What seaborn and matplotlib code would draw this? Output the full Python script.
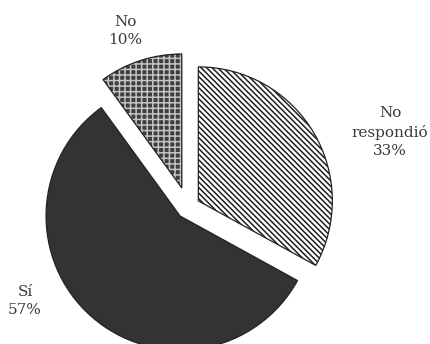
import matplotlib
matplotlib.use("Agg")
import matplotlib.pyplot as plt
import seaborn as sns

# Survey answers, clockwise from 12 o'clock
categories = ["No\nrespondió", "Sí", "No"]
values = [33, 57, 10]

sns.set_theme(style="white")
plt.rcParams["font.family"] = ["DejaVu Serif"]
plt.rcParams["hatch.linewidth"] = 1.1

W, H = 431, 344
fig = plt.figure(figsize=(W / 100, H / 100), dpi=100)
ax = fig.add_axes([0, 0, 1, 1])

face = ["white", "#333333", "#3e3e3e"]
hatch_col = ["#1e1e1e", "#333333", "#c4c4c4"]
hatches = ["\\" * 6, "", "+++"]
explode = [12, 12, 20]
center = (188, 137)
radius = 134

# Filled, hatched wedges (hatch colour follows the edge colour)
wedges, _ = ax.pie(values, explode=explode, startangle=90, counterclock=False,
                   center=center, radius=radius, colors=face,
                   wedgeprops=dict(linewidth=0))
for w, h, hc in zip(wedges, hatches, hatch_col):
    w.set_hatch(h)
    w.set_edgecolor(hc)

# Dark outlines on top
ax.pie(values, explode=explode, startangle=90, counterclock=False,
       center=center, radius=radius,
       wedgeprops=dict(fill=False, edgecolor="#222222", linewidth=0.9))

# Category labels with their share
label_pos = [(390, 212), (25, 43), (125, 313)]
for cat, val, (x, y) in zip(categories, values, label_pos):
    ax.text(x, y, f"{cat}\n{val}%", ha="center", va="center", fontsize=11,
            color="#3a3a3a", linespacing=1.4)

ax.set_xlim(0, W)
ax.set_ylim(0, H)
ax.set_aspect("equal")
ax.axis("off")
fig.savefig("out.png", dpi=100, facecolor="white")
